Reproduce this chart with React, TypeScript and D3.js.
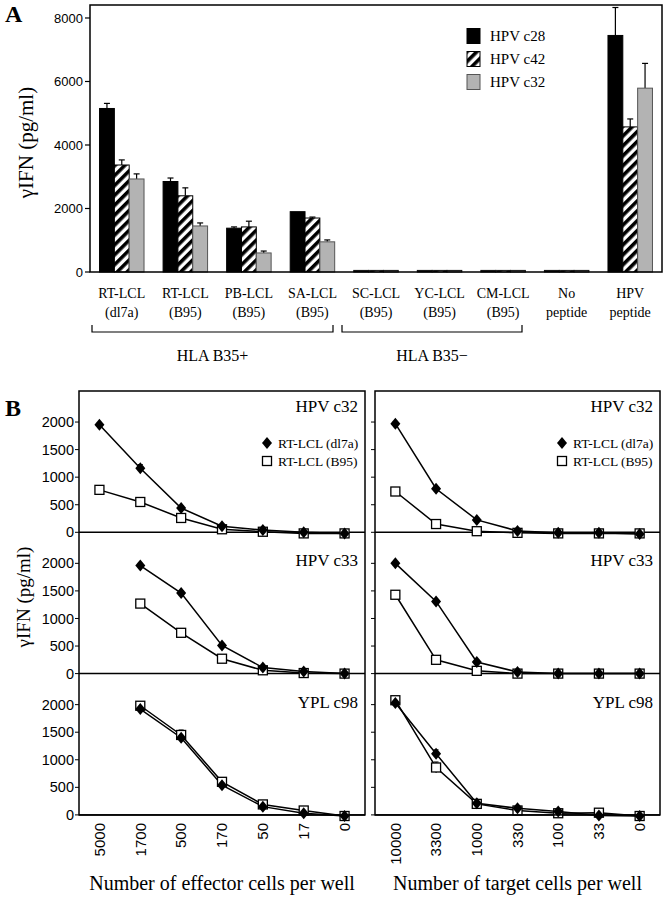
import React from "react";
import * as d3 from "d3";

// ---------- Panel A data ----------
const catLine1 = ["RT-LCL", "RT-LCL", "PB-LCL", "SA-LCL", "SC-LCL", "YC-LCL", "CM-LCL", "No", "HPV"];
const catLine2 = ["(dl7a)", "(B95)", "(B95)", "(B95)", "(B95)", "(B95)", "(B95)", "peptide", "peptide"];
const seriesA = ["HPV c28", "HPV c42", "HPV c32"];
const c28 = [5150, 2850, 1380, 1900, 50, 50, 50, 50, 7450];
const c28Err = [160, 110, 40, 0, 0, 0, 0, 0, 880];
const c42 = [3370, 2400, 1420, 1700, 50, 50, 50, 50, 4570];
const c42Err = [160, 250, 180, 30, 0, 0, 0, 0, 250];
const c32 = [2930, 1450, 600, 950, 50, 50, 50, 50, 5790];
const c32Err = [160, 95, 60, 60, 0, 0, 0, 0, 780];
const yTicksA = [0, 2000, 4000, 6000, 8000];
const groupsA = ["HLA B35+", "HLA B35\u2212"];

// ---------- Panel B data ----------
const effectorTicks = ["5000", "1700", "500", "170", "50", "17", "0"];
const targetTicks = ["10000", "3300", "1000", "330", "100", "33", "0"];
const clones = ["HPV c32", "HPV c33", "YPL c98"];
const seriesB = ["RT-LCL (dl7a)", "RT-LCL (B95)"];
const yTicksB = [0, 500, 1000, 1500, 2000];

const effDl7a = [
  [1950, 1160, 440, 110, 40, 0, -20],
  [null, 1960, 1460, 510, 110, 40, 0],
  [null, 1920, 1400, 540, 150, 30, -20],
];
const effDl7aErr = [
  [30, 70, 40, 20, 10, 10, 10],
  [null, 40, 40, 20, 10, 10, 10],
  [null, 40, 60, 30, 20, 10, 10],
];
const effB95 = [
  [770, 550, 260, 55, 10, -20, -20],
  [null, 1270, 740, 270, 60, 10, 0],
  [null, 1980, 1450, 600, 190, 80, -20],
];
const effB95Err = [
  [40, 40, 40, 10, 10, 10, 10],
  [null, 60, 40, 30, 10, 10, 10],
  [null, 40, 90, 30, 20, 10, 10],
];
const tgtDl7a = [
  [1970, 790, 225, 25, -10, -10, -30],
  [2000, 1310, 210, 30, 0, 0, 0],
  [2030, 1110, 210, 120, 60, -10, -20],
];
const tgtDl7aErr = [
  [30, 30, 20, 10, 10, 10, 10],
  [30, 30, 20, 10, 10, 10, 10],
  [30, 70, 20, 20, 10, 10, 10],
];
const tgtB95 = [
  [740, 150, 20, -10, -20, -20, -20],
  [1430, 250, 50, 0, 0, 0, 0],
  [2080, 860, 200, 80, 30, 40, -20],
];
const tgtB95Err = [
  [40, 80, 20, 10, 10, 10, 10],
  [40, 30, 20, 10, 10, 10, 10],
  [40, 100, 40, 20, 10, 10, 10],
];

const SERIF = "'Liberation Serif', 'Times New Roman', serif";
const SANS = "'Liberation Sans', Arial, sans-serif";
const GRAY = "#b3b3b3";

function PanelA() {
  const left = 90, right = 662, top = 5, bottom = 272;
  const x0 = d3.scaleBand<number>().domain(d3.range(catLine1.length)).range([left, right]).paddingInner(0.3).paddingOuter(0.15);
  const x1 = d3.scaleBand<number>().domain([0, 1, 2]).range([0, x0.bandwidth()]);
  const y = d3.scaleLinear().domain([0, 8409]).range([bottom, top]);
  const vals = [c28, c42, c32];
  const errs = [c28Err, c42Err, c32Err];
  const fills = ["#000", "url(#hatch)", GRAY];
  const strokes = ["#000", "#000", "#555"];
  const bracketY = 332;
  const brackets = [
    { x0: 92, x1: 333 },
    { x0: 342, x1: 522 },
  ];
  return (
    <g>
      <text x={5} y={22} fontFamily={SERIF} fontWeight="bold" fontSize={24}>A</text>
      {catLine1.map((_, i) => (
        <g key={i} transform={`translate(${x0(i)},0)`}>
          {vals.map((s, k) => {
            const bx = x1(k)!;
            const bw = x1.bandwidth();
            const v = s[i];
            const e = errs[k][i];
            const cx = bx + bw / 2;
            return (
              <g key={k}>
                {e > 0 && (
                  <g stroke="#000" strokeWidth={1.2}>
                    <line x1={cx} x2={cx} y1={y(v)} y2={y(v + e)} />
                    <line x1={cx - 3} x2={cx + 3} y1={y(v + e)} y2={y(v + e)} />
                  </g>
                )}
                <rect x={bx} y={y(v)} width={bw} height={bottom - y(v)} fill={fills[k]} stroke={v < 100 ? "#111" : strokes[k]} strokeWidth={1} />
              </g>
            );
          })}
        </g>
      ))}
      <rect x={left} y={top} width={right - left} height={bottom - top} fill="none" stroke="#000" strokeWidth={1.5} />
      {yTicksA.map((t) => (
        <g key={t}>
          <line x1={left - 5} x2={left} y1={y(t)} y2={y(t)} stroke="#000" strokeWidth={1.2} />
          <text x={left - 7} y={y(t)} dy="0.35em" textAnchor="end" fontFamily={SANS} fontSize={13}>{t}</text>
        </g>
      ))}
      <text transform={`translate(33,${(top + bottom) / 2 + 4}) rotate(-90)`} textAnchor="middle" fontFamily={SERIF} fontSize={21}>γIFN (pg/ml)</text>
      {catLine1.map((c, i) => {
        const cx = x0(i)! + x0.bandwidth() / 2;
        return (
          <g key={i} fontFamily={SERIF} fontSize={14} textAnchor="middle">
            <text x={cx} y={298}>{c}</text>
            <text x={cx} y={317}>{catLine2[i]}</text>
          </g>
        );
      })}
      {brackets.map((b, i) => (
        <g key={i}>
          <path d={`M${b.x0},${bracketY - 7}V${bracketY}H${b.x1}V${bracketY - 7}`} fill="none" stroke="#000" strokeWidth={1.2} />
          <text x={(b.x0 + b.x1) / 2} y={361} textAnchor="middle" fontFamily={SERIF} fontSize={16}>{groupsA[i]}</text>
        </g>
      ))}
      {seriesA.map((s, k) => (
        <g key={s} transform={`translate(467,${36 + k * 23})`}>
          <rect x={0} y={-7.5} width={13} height={15} fill={fills[k]} stroke={strokes[k]} strokeWidth={1} />
          <text x={23} y={0} dy="0.35em" fontFamily={SERIF} fontSize={15}>{s}</text>
        </g>
      ))}
    </g>
  );
}

const diamondPath = "M0,-6L5,0L0,6L-5,0Z";

function PanelBColumn({ left, right, ticks, dl7a, dl7aErr, b95, b95Err, showYLabels, xTitle }: any) {
  const top = 391;
  const rowH = 141.3;
  const x = d3.scalePoint<string>().domain(ticks).range([left, right]).padding(0.5);
  const idx = ticks.map((_: string, i: number) => i);
  return (
    <g>
      {clones.map((clone, r) => {
        const rTop = top + r * rowH;
        const rBot = rTop + rowH;
        const y = d3.scaleLinear().domain([0, 2563]).range([rBot, rTop]);
        const mk = (arr: (number | null)[]) =>
          d3.line<number>()
            .defined((i) => arr[i] != null)
            .x((i) => x(ticks[i])!)
            .y((i) => y(arr[i] as number))(idx) || "";
        const errBars = (arr: any[], err: any[]) =>
          idx.map((i: number) =>
            arr[i] == null || !err[i] ? null : (
              <g key={i} stroke="#000" strokeWidth={1}>
                <line x1={x(ticks[i])} x2={x(ticks[i])} y1={y(arr[i] - err[i])} y2={y(arr[i] + err[i])} />
                <line x1={x(ticks[i])! - 2.5} x2={x(ticks[i])! + 2.5} y1={y(arr[i] + err[i])} y2={y(arr[i] + err[i])} />
              </g>
            )
          );
        return (
          <g key={clone}>
            <line x1={left} x2={right} y1={y(0)} y2={y(0)} stroke="#000" strokeWidth={1.5} />
            {yTicksB.map((t) => (
              <g key={t}>
                <line x1={left - 4} x2={left} y1={y(t)} y2={y(t)} stroke="#000" strokeWidth={1} />
                {showYLabels && (
                  <text x={left - 5} y={y(t)} dy="0.35em" textAnchor="end" fontFamily={SANS} fontSize={14.5}>{t}</text>
                )}
              </g>
            ))}
            <path d={mk(b95[r])} fill="none" stroke="#000" strokeWidth={1.5} />
            <path d={mk(dl7a[r])} fill="none" stroke="#000" strokeWidth={1.5} />
            {errBars(b95[r], b95Err[r])}
            {errBars(dl7a[r], dl7aErr[r])}
            {idx.map((i: number) =>
              b95[r][i] == null ? null : (
                <rect key={"s" + i} x={x(ticks[i])! - 4.5} y={y(b95[r][i]) - 4.5} width={9} height={9} fill="#fff" stroke="#000" strokeWidth={1.3} />
              )
            )}
            {idx.map((i: number) =>
              dl7a[r][i] == null ? null : (
                <path key={"d" + i} d={diamondPath} transform={`translate(${x(ticks[i])},${y(dl7a[r][i])})`} fill="#000" />
              )
            )}
            <text x={right - 7} y={rTop + (r === 0 ? 21 : 34)} textAnchor="end" fontFamily={SERIF} fontSize={17}>{clone}</text>
            {r === 0 && (
              <g>
                <path d={diamondPath} transform={`translate(${right - 98},${443})`} fill="#000" />
                <text x={right - 87} y={443} dy="0.35em" fontFamily={SERIF} fontSize={13.5}>{seriesB[0]}</text>
                <rect x={right - 102.5} y={461 - 4.5} width={9} height={9} fill="#fff" stroke="#000" strokeWidth={1.3} />
                <text x={right - 87} y={461} dy="0.35em" fontFamily={SERIF} fontSize={13.5}>{seriesB[1]}</text>
              </g>
            )}
          </g>
        );
      })}
      <rect x={left} y={top} width={right - left} height={rowH * 3} fill="none" stroke="#000" strokeWidth={1.5} />
      {ticks.map((t: string) => (
        <text key={t} transform={`translate(${x(t)},823) rotate(-90)`} dy="0.35em" textAnchor="end" fontFamily={SANS} fontSize={15}>{t}</text>
      ))}
      <text x={(left + right) / 2} y={890} textAnchor="middle" fontFamily={SERIF} fontSize={20}>{xTitle}</text>
    </g>
  );
}

function PanelB() {
  return (
    <g>
      <text x={5} y={416} fontFamily={SERIF} fontWeight="bold" fontSize={24}>B</text>
      <text transform={`translate(30,597) rotate(-90)`} textAnchor="middle" fontFamily={SERIF} fontSize={19}>γIFN (pg/ml)</text>
      <PanelBColumn left={79} right={365} ticks={effectorTicks} dl7a={effDl7a} dl7aErr={effDl7aErr} b95={effB95} b95Err={effB95Err} showYLabels={true} xTitle="Number of effector cells per well" />
      <PanelBColumn left={375} right={660} ticks={targetTicks} dl7a={tgtDl7a} dl7aErr={tgtDl7aErr} b95={tgtB95} b95Err={tgtB95Err} showYLabels={false} xTitle="Number of target cells per well" />
    </g>
  );
}

export default function App() {
  return (
    <svg width={665} height={899} style={{ position: "absolute", left: 0, top: 0, background: "#fff" }}>
      <defs>
        <pattern id="hatch" patternUnits="userSpaceOnUse" width={7} height={7} patternTransform="rotate(45)">
          <rect x={0} y={0} width={7} height={7} fill="#fff" />
          <rect x={0} y={0} width={3.6} height={7} fill="#000" />
        </pattern>
      </defs>
      <rect x={0} y={0} width={665} height={899} fill="#fff" />
      <PanelA />
      <PanelB />
    </svg>
  );
}
